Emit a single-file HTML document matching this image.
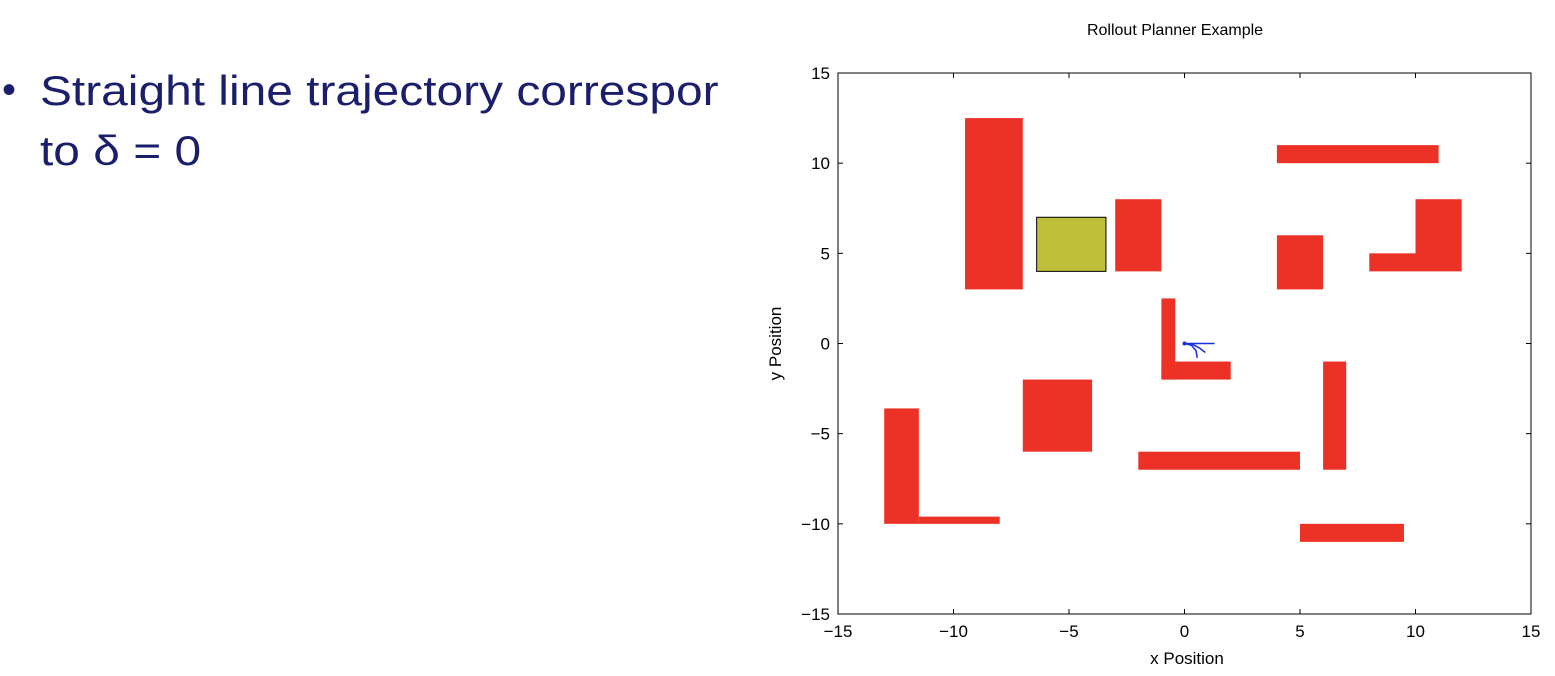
<!DOCTYPE html>
<html><head><meta charset="utf-8"><style>
html,body{margin:0;padding:0;background:#fff;width:1555px;height:676px;overflow:hidden;}
.slide{position:absolute;left:0;top:0;font-family:"Liberation Sans",sans-serif;color:#1b1f6b;font-size:42px;line-height:1;}
.ln{position:absolute;left:40px;white-space:nowrap;transform:scaleX(1.14);transform-origin:left;}
</style></head><body>
<div class="slide">
<div style="position:absolute;left:2px;top:70px;font-size:40px;">•</div>
<div class="ln" style="top:70px;">Straight line trajectory correspor</div>
<div class="ln" style="top:130px;">to δ = 0</div>
</div>
<svg id="chart" width="1555" height="676" style="position:absolute;left:0;top:0" font-family="Liberation Sans, sans-serif"></svg>
<script>
const obstacles=[[-9.5,-7,3,12.5],[-3,-1,4,8],[4,11,10,11],[4,6,3,6],[10,12,4,8],[8,10,4,5],[-1,-0.4,-2,2.5],[-1,2,-2,-1],[-7,-4,-6,-2],[-2,5,-7,-6],[6,7,-7,-1],[5,9.5,-11,-10],[-13,-11.5,-10,-3.6],[-11.5,-8,-10,-9.6]];
const goal=[-6.4,-3.4,4,7];
const traj1X=[0,0.4,0.8,1.3],traj1Y=[0,0,0,0];
const traj2X=[0,0.3,0.5,0.55],traj2Y=[0,-0.1,-0.4,-0.8];
const traj3X=[0,0.35,0.65,0.9],traj3Y=[0,-0.05,-0.25,-0.5];
const ticks=[-15,-10,-5,0,5,10,15];
const X0=838,X1=1531,Y0=614,Y1=73;
const sx=v=>X0+(v+15)/30*(X1-X0), sy=v=>Y0-(v+15)/30*(Y0-Y1);
const svg=document.getElementById('chart');const NS='http://www.w3.org/2000/svg';
function mk(t,a,p){const e=document.createElementNS(NS,t);for(const k in a)e.setAttribute(k,a[k]);(p||svg).appendChild(e);return e;}
let e;
obstacles.forEach(o=>{e=mk('rect',{x:sx(o[0]),y:sy(o[3]),width:sx(o[1])-sx(o[0]),height:sy(o[2])-sy(o[3]),fill:'#ec3126'});

});
e=mk('rect',{x:sx(goal[0]),y:sy(goal[3]),width:sx(goal[1])-sx(goal[0]),height:sy(goal[2])-sy(goal[3]),fill:'#bfbf3c',stroke:'#000','stroke-width':1});


[[traj1X,traj1Y],[traj2X,traj2Y],[traj3X,traj3Y]].forEach(t=>{const pts=t[0].map((x,i)=>sx(x)+','+sy(t[1][i])).join(' ');
e=mk('polyline',{points:pts,fill:'none',stroke:'#1a2fe0','stroke-width':1.5});

});
e=mk('circle',{cx:sx(0),cy:sy(0),r:2,fill:'#1a2fe0'});


e=mk('rect',{x:X0,y:Y1,width:X1-X0,height:Y0-Y1,fill:'none',stroke:'#000','stroke-width':1});


ticks.forEach(t=>{
mk('line',{x1:sx(t),x2:sx(t),y1:Y0,y2:Y0-5,stroke:'#000'});mk('line',{x1:sx(t),x2:sx(t),y1:Y1,y2:Y1+5,stroke:'#000'});
mk('line',{x1:X0,x2:X0+5,y1:sy(t),y2:sy(t),stroke:'#000'});mk('line',{x1:X1,x2:X1-5,y1:sy(t),y2:sy(t),stroke:'#000'});
e=mk('text',{x:sx(t),y:Y0+23,'text-anchor':'middle','font-size':17,fill:'#000'});e.textContent=(t<0?'\u2212'+(-t):t);


e=mk('text',{x:X0-8,y:sy(t)+6,'text-anchor':'end','font-size':17,fill:'#000'});e.textContent=(t<0?'\u2212'+(-t):t);


});
e=mk('text',{x:1175,y:35,'text-anchor':'middle','font-size':16,fill:'#000'});e.textContent='Rollout Planner Example';


e=mk('text',{x:1187,y:664,'text-anchor':'middle','font-size':17,fill:'#000'});e.textContent='x Position';


e=mk('text',{x:0,y:0,'text-anchor':'middle','font-size':17,fill:'#000',transform:'translate(781,'+((Y0+Y1)/2)+') rotate(-90)'});e.textContent='y Position';


</script>
</body></html>
